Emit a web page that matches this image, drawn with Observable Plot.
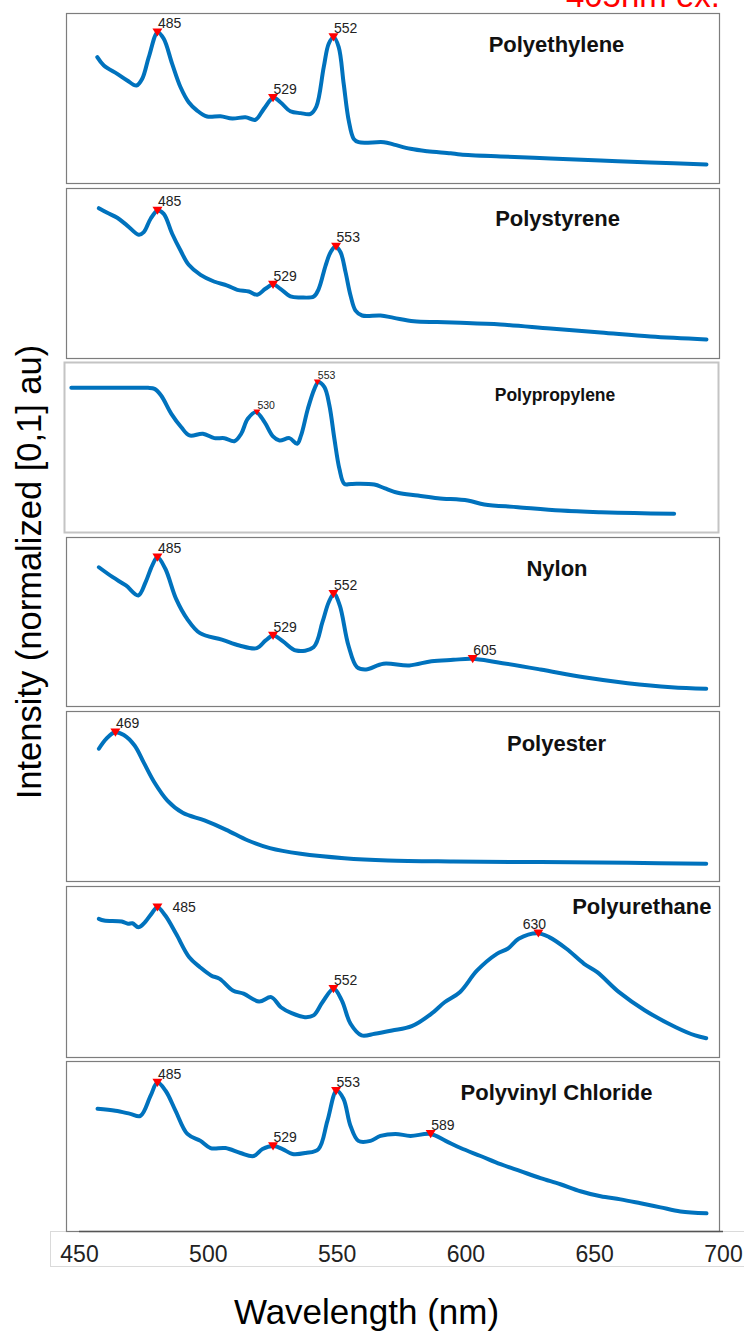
<!DOCTYPE html>
<html><head><meta charset="utf-8">
<script src="https://cdn.jsdelivr.net/npm/d3@7"></script>
<script src="https://cdn.jsdelivr.net/npm/@observablehq/plot@0.6"></script>
<style>
body{margin:0;background:#fff;font-family:"Liberation Sans",Arial,sans-serif;}
#page{position:relative;width:744px;height:1332px;overflow:hidden;background:#fff;}
.abs{position:absolute;white-space:nowrap;}
</style></head><body><div id="page"></div>
<script>
// ---------- data ----------
const wavelengthTicks=[450,500,550,600,650,700];
const excitationNote="405nm ex.";
const xLabel="Wavelength (nm)";
const yLabel="Intensity (normalized [0,1] au)";
const titles=["Polyethylene","Polystyrene","Polypropylene","Nylon","Polyester","Polyurethane","Polyvinyl Chloride"];

const peWavelength=[462.1,464.6,469.7,473.5,477.0,479.2,481.7,485.1,487.4,490.6,493.8,496.9,500.1,503.9,509.0,513.5,518.5,522.3,525.5,529.1,531.8,535.6,539.5,543.3,545.5,548.3,550.2,552.1,554.0,555.9,557.8,559.7,561.6,571.2,575.0,581.3,587.7,596.6,600.4,615.6,634.6,653.7,672.7,694.0];
const peIntensity=[0.743,0.694,0.645,0.606,0.576,0.616,0.743,0.890,0.851,0.704,0.566,0.478,0.429,0.394,0.396,0.382,0.390,0.375,0.439,0.504,0.478,0.425,0.414,0.410,0.453,0.684,0.822,0.861,0.802,0.586,0.371,0.263,0.243,0.243,0.229,0.204,0.190,0.178,0.171,0.159,0.147,0.135,0.124,0.112];
const pePeakWavelength=[485,529,552];
const pePeakIntensity=[0.890,0.504,0.861];

const psWavelength=[462.7,465.9,469.7,473.5,477.9,479.8,482.4,485.1,487.4,490.6,493.8,496.9,501.4,506.5,511.6,515.4,519.8,523.0,526.1,529.1,531.8,535.6,539.5,544.5,546.4,549.0,550.9,552.8,554.7,556.6,558.5,560.4,562.9,569.9,575.0,582.6,591.5,600.4,615.6,634.6,653.7,672.7,694.0];
const psIntensity=[0.884,0.857,0.828,0.782,0.728,0.743,0.822,0.871,0.851,0.734,0.635,0.551,0.492,0.453,0.429,0.404,0.394,0.375,0.410,0.435,0.410,0.365,0.359,0.365,0.410,0.547,0.625,0.659,0.625,0.508,0.371,0.282,0.253,0.253,0.239,0.219,0.214,0.210,0.200,0.176,0.153,0.129,0.112];
const psPeakWavelength=[485,529,553];
const psPeakIntensity=[0.871,0.435,0.659];

const ppWavelength=[459.3,474.0,484.0,488.5,491.0,493.5,497.4,501.2,504.3,509.4,513.8,517.6,521.4,524.0,526.5,529.7,532.9,536.1,538.6,542.4,545.3,546.8,549.4,551.9,553.4,555.7,557.6,559.5,561.4,563.3,565.9,574.7,578.5,583.6,591.3,598.9,610.3,616.6,629.4,645.8,661.0,673.7,688.9];
const ppIntensity=[0.851,0.851,0.851,0.851,0.845,0.806,0.698,0.619,0.571,0.581,0.555,0.555,0.537,0.581,0.669,0.708,0.649,0.565,0.541,0.555,0.522,0.571,0.728,0.845,0.884,0.855,0.747,0.551,0.375,0.286,0.286,0.282,0.261,0.234,0.218,0.202,0.188,0.165,0.149,0.129,0.119,0.114,0.110];
const ppPeakWavelength=[530,553];
const ppPeakIntensity=[0.708,0.884];

const nyWavelength=[462.7,468.0,473.0,477.7,480.5,483.0,485.0,488.0,492.1,496.3,501.2,509.5,516.2,522.8,526.2,529.1,532.8,537.8,544.4,547.8,550.2,552.2,554.4,557.7,561.0,564.4,571.0,580.9,589.3,597.6,604.7,614.2,630.8,647.4,664.0,680.6,693.9];
const nyIntensity=[0.824,0.765,0.716,0.657,0.736,0.834,0.883,0.815,0.637,0.519,0.434,0.396,0.361,0.345,0.391,0.420,0.385,0.331,0.351,0.499,0.617,0.667,0.598,0.361,0.232,0.219,0.253,0.243,0.268,0.276,0.282,0.262,0.219,0.173,0.138,0.114,0.105];
const nyPeakWavelength=[485,529,552,605];
const nyPeakIntensity=[0.883,0.420,0.667,0.282];

const pesWavelength=[462.7,465.5,468.8,472.2,476.3,479.7,483.8,488.8,494.6,502.9,511.2,519.5,527.8,539.5,556.1,572.7,597.6,630.8,664.0,693.9];
const pesIntensity=[0.781,0.839,0.878,0.862,0.800,0.702,0.584,0.476,0.404,0.359,0.304,0.241,0.196,0.163,0.137,0.124,0.118,0.114,0.110,0.104];
const pesPeakWavelength=[469];
const pesPeakIntensity=[0.878];

const puWavelength=[462.7,464.7,471.4,473.8,475.5,477.7,479.7,482.7,485.0,488.0,492.1,497.1,501.2,505.4,508.7,513.7,517.8,523.7,528.3,532.0,536.1,541.1,544.4,547.8,552.1,555.2,558.5,562.7,567.7,574.3,581.8,589.3,594.3,600.1,606.7,614.2,618.3,622.5,629.6,634.1,640.7,647.4,652.4,660.7,670.6,682.3,689.7,693.9];
const puIntensity=[0.811,0.801,0.795,0.782,0.785,0.762,0.782,0.840,0.879,0.830,0.723,0.586,0.528,0.480,0.460,0.392,0.373,0.327,0.353,0.294,0.259,0.236,0.246,0.323,0.402,0.333,0.197,0.129,0.139,0.158,0.183,0.256,0.323,0.382,0.509,0.606,0.636,0.694,0.727,0.704,0.636,0.548,0.499,0.382,0.275,0.177,0.129,0.113];
const puPeakWavelength=[485,552,630];
const puPeakIntensity=[0.879,0.402,0.727];
const puPeakLabelSide=["right","top","center"];

const pvcWavelength=[462.2,469.0,474.7,478.5,482.4,485.0,488.1,491.9,496.4,501.4,505.2,510.9,516.6,521.6,525.0,529.2,532.6,536.4,541.4,546.3,549.7,553.2,555.8,558.5,561.5,566.1,569.9,575.6,581.3,588.9,594.7,600.4,608.0,615.6,623.2,630.8,638.4,646.0,653.7,661.3,668.9,676.5,684.1,694.0];
const pvcIntensity=[0.722,0.710,0.692,0.680,0.799,0.876,0.828,0.710,0.574,0.533,0.491,0.491,0.462,0.444,0.485,0.503,0.485,0.456,0.462,0.485,0.651,0.828,0.781,0.621,0.533,0.533,0.562,0.574,0.562,0.574,0.533,0.491,0.444,0.396,0.355,0.314,0.278,0.237,0.207,0.189,0.166,0.142,0.118,0.107];
const pvcPeakWavelength=[485,529,553,589];
const pvcPeakIntensity=[0.876,0.503,0.828,0.574];

// ---------- layout / style ----------
const BLUE="#0072BD", FONT="'Liberation Sans', Arial, Helvetica, sans-serif";
const W=744;
const mainDomain=[450.38,698.95], ppDomain=[456.7,705.8];
const panels=[
 {title:titles[0],w:peWavelength,v:peIntensity,pw:pePeakWavelength,pv:pePeakIntensity,top:13,bottom:183,left:66,right:719,domain:mainDomain,tx:556,ty:44,tanchor:"middle",tsize:22},
 {title:titles[1],w:psWavelength,v:psIntensity,pw:psPeakWavelength,pv:psPeakIntensity,top:188,bottom:358,left:66,right:719,domain:mainDomain,tx:557,ty:218,tanchor:"middle",tsize:22},
 {title:titles[2],w:ppWavelength,v:ppIntensity,pw:ppPeakWavelength,pv:ppPeakIntensity,top:362,bottom:532,left:64,right:718,domain:ppDomain,tx:554.5,ty:395,tanchor:"middle",tsize:17.5,frame:"#c4c4c4",fw:2,small:true},
 {title:titles[3],w:nyWavelength,v:nyIntensity,pw:nyPeakWavelength,pv:nyPeakIntensity,top:537,bottom:706,left:66,right:719,domain:mainDomain,tx:556.5,ty:568,tanchor:"middle",tsize:22},
 {title:titles[4],w:pesWavelength,v:pesIntensity,pw:pesPeakWavelength,pv:pesPeakIntensity,top:711,bottom:881,left:66,right:719,domain:mainDomain,tx:556,ty:743,tanchor:"middle",tsize:22},
 {title:titles[5],w:puWavelength,v:puIntensity,pw:puPeakWavelength,pv:puPeakIntensity,side:puPeakLabelSide,top:886,bottom:1057,left:66,right:719,domain:mainDomain,tx:711,ty:906,tanchor:"end",tsize:22},
 {title:titles[6],w:pvcWavelength,v:pvcIntensity,pw:pvcPeakWavelength,pv:pvcPeakIntensity,top:1061,bottom:1231,left:66,right:719,domain:mainDomain,tx:556,ty:1092,tanchor:"middle",tsize:22}
];

const page=document.getElementById("page");

function triDown(s){
  return {draw(ctx){ctx.moveTo(-5*s,-3.8*s);ctx.lineTo(5*s,-3.8*s);ctx.lineTo(0,4.4*s);ctx.closePath();}};
}

function addDiv(text,css){
  const d=document.createElement("div");d.className="abs";d.textContent=text;
  Object.assign(d.style,css);page.appendChild(d);return d;
}

// tick-label box (behind the axis)
const box=document.createElement("div");
Object.assign(box.style,{position:"absolute",left:"50px",top:"1231px",width:"720px",height:"36px",border:"1px solid #dadada",boxSizing:"border-box"});
page.appendChild(box);

for(const p of panels){
  const series=p.w.map((w,i)=>({w,v:p.v[i]}));
  const peaks=p.pw.map((w,i)=>({w,v:p.pv[i],side:p.side?p.side[i]:"top"}));
  const fs=p.small?10.5:14;
  const up=p.small?-7:-8.5;
  const labelStyles={
    top:{textAnchor:"start",dx:0.5,dy:up},
    right:{textAnchor:"start",dx:15,dy:0.5},
    center:{textAnchor:"middle",dx:-4,dy:-9}
  };
  const marks=[
    Plot.frame({stroke:p.frame||"#7d7d7d",strokeWidth:p.fw||1.2}),
    Plot.line(series,{x:"w",y:"v",stroke:BLUE,strokeWidth:4,curve:"catmull-rom",strokeLinejoin:"round"}),
    Plot.dot(peaks,{x:"w",y:"v",symbol:triDown(p.small?0.7:1),fill:"#ff0000",stroke:"none"})
  ];
  for(const side of Object.keys(labelStyles)){
    const sub=peaks.filter(d=>d.side===side);
    if(sub.length) marks.push(Plot.text(sub,{x:"w",y:"v",text:d=>String(d.w),fontSize:fs,fill:"#222",lineAnchor:"middle",...labelStyles[side]}));
  }
  marks.push(Plot.text([p.title],{frameAnchor:"top-left",text:d=>d,dx:p.tx-p.left,dy:p.ty-p.top,textAnchor:p.tanchor,lineAnchor:"middle",fontWeight:"bold",fontSize:p.tsize,fill:"#111"}));
  const svg=Plot.plot({
    width:W,height:p.bottom-p.top+4,
    marginTop:2,marginBottom:2,marginLeft:p.left,marginRight:W-p.right,
    x:{domain:p.domain,axis:null},
    y:{domain:[0,1],axis:null},
    style:{background:"transparent",fontFamily:FONT,overflow:"visible"},
    marks
  });
  Object.assign(svg.style,{position:"absolute",left:"0px",top:(p.top-2)+"px"});
  page.appendChild(svg);
}

// bottom wavelength axis
const axisSvg=Plot.plot({
  width:W,height:104,marginTop:2,marginBottom:101,marginLeft:79,marginRight:W-723,
  x:{domain:[450,700],ticks:wavelengthTicks,tickSize:0,tickPadding:14,tickFormat:d=>String(d),label:null},
  y:{domain:[0,1],axis:null},
  style:{background:"transparent",fontFamily:FONT,fontSize:"23px",color:"#222",overflow:"visible"},
  marks:[
    Plot.ruleY([0],{stroke:"#555",strokeWidth:1.3}),
    Plot.text([xLabel],{frameAnchor:"bottom",text:d=>d,dx:-35,dy:81,fontSize:35,lineAnchor:"middle",fill:"#000"})
  ]
});
Object.assign(axisSvg.style,{position:"absolute",left:"0px",top:"1228px"});
page.appendChild(axisSvg);

// y label and excitation note
addDiv(yLabel,{left:"29px",top:"572px",transform:"translate(-50%,-50%) rotate(-90deg)",fontSize:"34.5px",lineHeight:"34px",color:"#000"});
addDiv(excitationNote,{right:"24px",top:"-21px",fontSize:"33px",lineHeight:"33px",color:"#ff0000"});
</script></body></html>
